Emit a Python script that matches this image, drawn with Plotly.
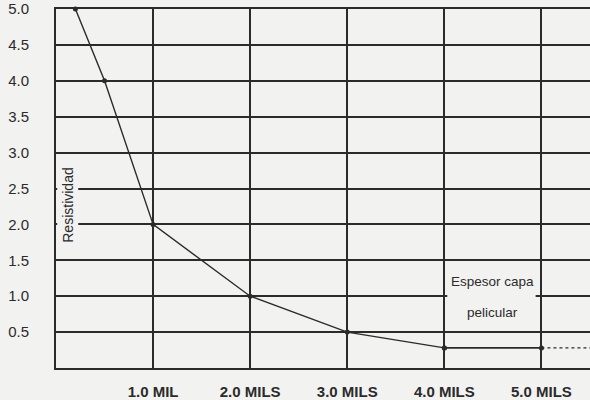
import plotly.graph_objects as go

# Data
thickness = [0.2, 0.5, 1.0, 2.0, 3.0, 4.0]
resistivity = [5.0, 4.0, 2.0, 1.0, 0.5, 0.28]
flat_x = [4.0, 5.0]
flat_y = [0.28, 0.28]
dotted_x = [5.0, 5.5]
dotted_y = [0.28, 0.28]

x_tickvals = [1, 2, 3, 4, 5]
x_ticktext = ["1.0 MIL", "2.0 MILS", "3.0 MILS", "4.0 MILS", "5.0 MILS"]
y_tickvals = [0.5, 1.0, 1.5, 2.0, 2.5, 3.0, 3.5, 4.0, 4.5, 5.0]
y_ticktext = ["0.5", "1.0", "1.5", "2.0", "2.5", "3.0", "3.5", "4.0", "4.5", "5.0"]

BG = "#f2f2f0"
INK = "#2b2b2b"
FONT = "Liberation Sans, Arial, sans-serif"

fig = go.Figure()
fig.add_trace(go.Scatter(
    x=thickness, y=resistivity, mode="lines+markers",
    line=dict(color=INK, width=1.4),
    marker=dict(color=INK, size=5),
    cliponaxis=False, showlegend=False, hoverinfo="skip"))
fig.add_trace(go.Scatter(
    x=flat_x, y=flat_y, mode="lines+markers",
    line=dict(color=INK, width=1.6),
    marker=dict(color=INK, size=5),
    cliponaxis=False, showlegend=False, hoverinfo="skip"))
fig.add_trace(go.Scatter(
    x=dotted_x, y=dotted_y, mode="lines",
    line=dict(color=INK, width=1.4, dash="dot"),
    cliponaxis=False, showlegend=False, hoverinfo="skip"))

# Box hiding the gridline behind the label
fig.add_shape(type="rect", xref="x", yref="y", x0=4.03, x1=4.94, y0=0.68, y1=1.33,
              fillcolor=BG, line=dict(width=0), layer="above")
fig.add_annotation(x=4.5, y=1.2, xref="x", yref="y", text="Espesor capa",
                   showarrow=False, font=dict(family=FONT, size=13.5, color=INK))
fig.add_annotation(x=4.5, y=0.77, xref="x", yref="y", text="pelicular",
                   showarrow=False, font=dict(family=FONT, size=13.5, color=INK))
fig.add_annotation(x=0.022, y=2.27, xref="paper", yref="y", text="Resistividad",
                   xanchor="center", yanchor="middle",
                   textangle=-90, showarrow=False, bgcolor=BG, borderpad=2,
                   font=dict(family=FONT, size=14, color=INK))

fig.update_layout(
    width=590, height=400,
    margin=dict(l=56, r=0, t=8, b=31),
    paper_bgcolor=BG, plot_bgcolor=BG,
    font=dict(family=FONT, color=INK),
    xaxis=dict(range=[0, 5.5], tickvals=x_tickvals, ticktext=x_ticktext,
               showgrid=True, gridcolor=INK, gridwidth=2,
               showline=True, linecolor=INK, linewidth=2, mirror=True,
               zeroline=False, ticks="", ticklabelstandoff=9,
               ticklabeloverflow="allow",
               tickfont=dict(family=FONT, size=15, color=INK, weight="bold")),
    yaxis=dict(range=[0, 5], tickvals=y_tickvals, ticktext=y_ticktext,
               showgrid=True, gridcolor=INK, gridwidth=2,
               showline=True, linecolor=INK, linewidth=2,
               zeroline=False, ticks="", ticklabelstandoff=22,
               ticklabeloverflow="allow",
               tickfont=dict(family=FONT, size=15, color=INK)),
)

fig.write_html("out.html", config={"displayModeBar": False})

# remove default page margins so the figure fills the window exactly
with open("out.html", "r", encoding="utf-8") as f:
    html = f.read()
html = html.replace("<head>", "<head><style>html,body{margin:0;padding:0;overflow:hidden;background:%s}</style>" % BG, 1)
with open("out.html", "w", encoding="utf-8") as f:
    f.write(html)
